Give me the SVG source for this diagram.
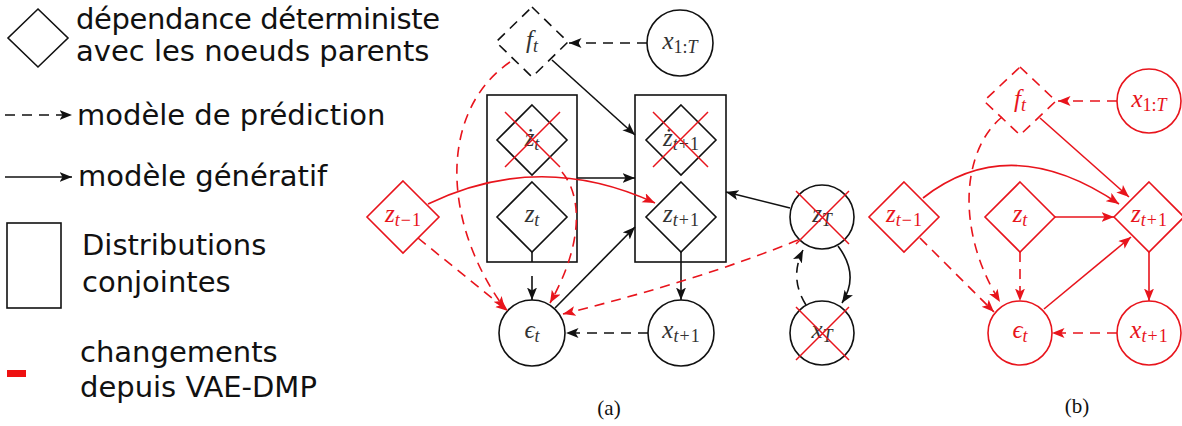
<svg xmlns="http://www.w3.org/2000/svg" width="1182" height="426" viewBox="0 0 1182 426">
<style>
.lg{font-family:"DejaVu Sans",sans-serif;font-size:29px;fill:#111}
.m{font-family:"Liberation Serif","DejaVu Serif",serif;font-style:italic;font-size:25px;fill:#333;text-anchor:middle}
.s{font-size:18px}
.u{font-style:normal}
.r .m{fill:#e8141c}
.cap{font-family:"Liberation Serif",serif;font-size:21px;fill:#111;text-anchor:middle}
.n{fill:none;stroke:#111;stroke-width:1.6}
.nr{fill:none;stroke:#e8141c;stroke-width:1.6}
.x{stroke:#e8141c;stroke-width:1.5}
.k{fill:none;stroke:#111;stroke-width:1.6}
.kr{fill:none;stroke:#e8141c;stroke-width:1.6}
.d{stroke-dasharray:10 7}
.ka{marker-end:url(#ab)}
.ra{marker-end:url(#ar)}
</style>
<defs>
<marker id="ab" markerUnits="userSpaceOnUse" markerWidth="14" markerHeight="11" refX="12.5" refY="5" orient="auto"><path d="M0,0 L12.5,5 L0,10 L3,5 z" fill="#111"/></marker>
<marker id="ar" markerUnits="userSpaceOnUse" markerWidth="14" markerHeight="11" refX="12.5" refY="5" orient="auto"><path d="M0,0 L12.5,5 L0,10 L3,5 z" fill="#e8141c"/></marker>
</defs>

<g id="legend">
<polygon points="38,9 68,38 38,67 8,38" class="n"/>
<text class="lg" x="76" y="29" textLength="364">dépendance déterministe</text>
<text class="lg" x="76" y="61">avec les noeuds parents</text>
<path d="M5,115 L72,115" class="k d ka"/>
<text class="lg" x="77" y="125">modèle de prédiction</text>
<path d="M5,177 L72,177" class="k ka"/>
<text class="lg" x="78" y="186">modèle génératif</text>
<rect x="7" y="223" width="54" height="85" class="n"/>
<text class="lg" x="82" y="255">Distributions</text>
<text class="lg" x="82" y="292">conjointes</text>
<rect x="7" y="370" width="19" height="7" fill="#ee1111"/>
<text class="lg" x="80" y="362">changements</text>
<text class="lg" x="80" y="397">depuis VAE-DMP</text>
</g>

<g id="a-ft"><polygon points="532,7 568,42 532,77 496,42" class="n d"/><text class="m" x="532" y="48">f<tspan class="s" dy="4">t</tspan></text></g>
<g id="a-x1T"><circle cx="680" cy="43" r="33" class="n"/><text class="m" x="680" y="49">x<tspan class="s u" dy="4">1:</tspan><tspan class="s">T</tspan></text></g>
<g id="a-rect-t"><rect x="487" y="95" width="90" height="167" class="n"/></g>
<g id="a-zdot-t"><polygon points="532,105 567,140 532,175 497,140" class="n"/><text class="m" x="532" y="146">ż<tspan class="s" dy="4">t</tspan></text><path d="M505,112 L560,167 M560,112 L505,167" class="x"/></g>
<g id="a-z-t"><polygon points="532,182 567,217 532,252 497,217" class="n"/><text class="m" x="532" y="222">z<tspan class="s" dy="4">t</tspan></text></g>
<g id="a-rect-t1"><rect x="635" y="95" width="91" height="167" class="n"/></g>
<g id="a-zdot-t1"><polygon points="681,105 716,140 681,175 646,140" class="n"/><text class="m" x="681" y="146">ż<tspan class="s" dy="4">t<tspan dx="1" class="u">+</tspan><tspan dx="1" class="u">1</tspan></tspan></text><path d="M653,112 L708,167 M708,112 L653,167" class="x"/></g>
<g id="a-z-t1"><polygon points="681,182 716,217 681,252 646,217" class="n"/><text class="m" x="681" y="222">z<tspan class="s" dy="4">t<tspan dx="1" class="u">+</tspan><tspan dx="1" class="u">1</tspan></tspan></text></g>
<g id="a-z-tm1" class="r"><polygon points="403,181 439,217 403,253 367,217" class="nr"/><text class="m" x="403" y="222">z<tspan class="s" dy="4">t<tspan dx="1" class="u">−</tspan><tspan dx="1" class="u">1</tspan></tspan></text></g>
<g id="a-eps"><circle cx="532" cy="333" r="33" class="n"/><text class="m" x="532" y="338">ϵ<tspan class="s" dy="4">t</tspan></text></g>
<g id="a-x-t1"><circle cx="681" cy="333" r="33" class="n"/><text class="m" x="681" y="338">x<tspan class="s" dy="4">t<tspan dx="1" class="u">+</tspan><tspan dx="1" class="u">1</tspan></tspan></text></g>
<g id="a-zT"><circle cx="822" cy="217" r="32" class="n"/><text class="m" x="822" y="222">z<tspan class="s" dy="4">T</tspan></text><path d="M796,191 L849,244 M849,191 L796,244" class="x"/></g>
<g id="a-xT"><circle cx="822" cy="333" r="32" class="n"/><text class="m" x="822" y="338">x<tspan class="s" dy="4">T</tspan></text><path d="M796,307 L849,360 M849,307 L796,360" class="x"/></g>
<text class="cap" x="609" y="415">(a)</text>

<g id="b-ft" class="r"><polygon points="1020,67 1056,101 1020,135 984,101" class="nr d"/><text class="m" x="1020" y="107">f<tspan class="s" dy="4">t</tspan></text></g>
<g id="b-x1T" class="r"><circle cx="1149" cy="101" r="32" class="nr"/><text class="m" x="1149" y="107">x<tspan class="s u" dy="4">1:</tspan><tspan class="s">T</tspan></text></g>
<g id="b-z-tm1" class="r"><polygon points="904,182 939,217 904,252 869,217" class="nr"/><text class="m" x="904" y="222">z<tspan class="s" dy="4">t<tspan dx="1" class="u">−</tspan><tspan dx="1" class="u">1</tspan></tspan></text></g>
<g id="b-z-t" class="r"><polygon points="1020,182 1055,217 1020,252 985,217" class="nr"/><text class="m" x="1020" y="222">z<tspan class="s" dy="4">t</tspan></text></g>
<g id="b-z-t1" class="r"><polygon points="1149,182 1184,217 1149,252 1114,217" class="nr"/><text class="m" x="1149" y="222">z<tspan class="s" dy="4">t<tspan dx="1" class="u">+</tspan><tspan dx="1" class="u">1</tspan></tspan></text></g>
<g id="b-eps" class="r"><circle cx="1020" cy="333" r="32" class="nr"/><text class="m" x="1020" y="338">ϵ<tspan class="s" dy="4">t</tspan></text></g>
<g id="b-x-t1" class="r"><circle cx="1149" cy="333" r="32" class="nr"/><text class="m" x="1149" y="338">x<tspan class="s" dy="4">t<tspan dx="1" class="u">+</tspan><tspan dx="1" class="u">1</tspan></tspan></text></g>
<text class="cap" x="1077" y="413">(b)</text>

<g id="connectors">
<path d="M647,43 L569,43" class="k d ka"/>
<path d="M552,60 L635,135" class="k ka"/>
<path d="M577,178 L635,178" class="k ka"/>
<path d="M532,252 L532,262" class="k"/>
<path d="M532,276 L532,300" class="k ka"/>
<path d="M555,308 L635,227" class="k ka"/>
<path d="M681,252 L681,300" class="k ka"/>
<path d="M648,333 L566,333" class="k d ka"/>
<path d="M790,208 L726,192" class="k ka"/>
<path d="M838,246 Q860,275 842,303" class="k ka"/>
<path d="M806,305 Q789,278 803,250" class="k d ka"/>
<path d="M428,204 Q540,150 655,203" class="kr ra"/>
<path d="M510,62 C440,110 440,220 505,309" class="kr d ra"/>
<path d="M418,238 L508,311" class="kr d ra"/>
<path d="M562,172 C585,200 580,250 550,303" class="kr d ra"/>
<path d="M798,240 Q700,280 563,314" class="kr d ra"/>

<path d="M1117,101 L1058,101" class="kr d ra"/>
<path d="M1040,118 L1129,197" class="kr ra"/>
<path d="M923,198 Q1010,130 1119,204" class="kr ra"/>
<path d="M1055,217 L1114,217" class="kr ra"/>
<path d="M1020,252 L1020,301" class="kr d ra"/>
<path d="M920,238 L994,312" class="kr d ra"/>
<path d="M1002,117 C962,150 955,230 1000,302" class="kr d ra"/>
<path d="M1044,309 L1131,237" class="kr ra"/>
<path d="M1149,252 L1149,301" class="kr ra"/>
<path d="M1117,333 L1052,333" class="kr d ra"/>
</g>
</svg>
